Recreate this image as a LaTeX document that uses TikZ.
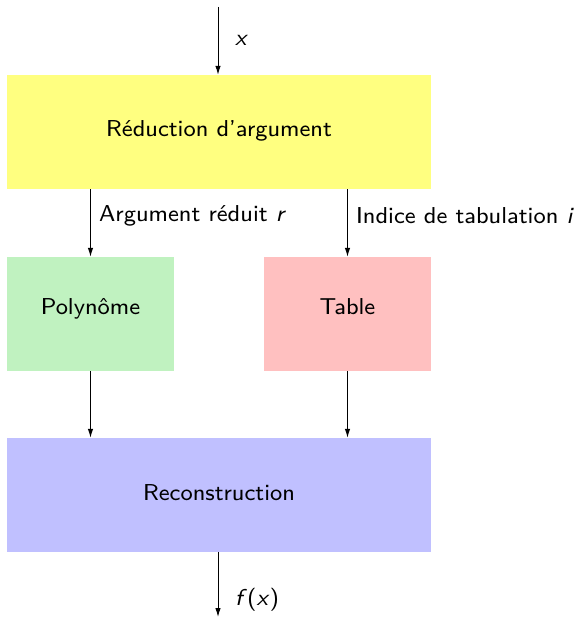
\documentclass[tikz,border=0pt]{standalone}
\usepackage{fontspec}
\setsansfont{lmsans8-regular.otf}[ItalicFont=lmsans8-oblique.otf]
\usetikzlibrary{arrows.meta}
\definecolor{cyellow}{RGB}{255,255,128}
\definecolor{cgreen}{RGB}{192,242,192}
\definecolor{cred}{RGB}{255,192,192}
\definecolor{cblue}{RGB}{192,192,255}
\begin{document}
\begin{tikzpicture}[x=1pt,y=-1pt,
  font=\sffamily\fontsize{23}{28}\selectfont,
  blk/.style={rectangle,inner sep=0pt,minimum height=114pt},
  txt/.style={anchor=base,inner sep=0pt},
  arr/.style={line width=1pt,-{Latex[length=9pt,width=5.5pt]}},
  lbl/.style={anchor=west,inner sep=0pt}]
\useasboundingbox (0,0) rectangle (577,618);
\node[blk,fill=cyellow,minimum width=424pt] (red) at (219,132) {};
\node[blk,fill=cgreen,minimum width=167pt] (poly) at (90.5,314) {};
\node[blk,fill=cred,minimum width=167pt] (tab) at (347.5,314) {};
\node[blk,fill=cblue,minimum width=424pt] (rec) at (219,495) {};
\node[txt] (tred) at (219,136) {Réduction d'argument};
\node[txt] (tpoly) at (90.5,314) {Polynôme};
\node[txt] (ttab) at (347.5,314) {Table};
\node[txt] (trec) at (219,500) {Reconstruction};
\coordinate (in) at (218,7);
\coordinate (out) at (218,617);
\draw[arr] (in) -- (in |- red.north);
\draw[arr] (red.south -| poly.north) -- (poly.north);
\draw[arr] (red.south -| tab.north) -- (tab.north);
\draw[arr] (poly.south) -- (poly.south |- rec.north);
\draw[arr] (tab.south) -- (tab.south |- rec.north);
\draw[arr] (in |- rec.south) -- (out);
\node[lbl] (lx) at (235,40) {\textit{x}};
\node[lbl] (la) at (99,216) {Argument réduit \textit{r}};
\node[lbl] (li) at (356,216) {Indice de tabulation \textit{i}};
\node[lbl] (lf) at (235,600) {\textit{f}(\textit{x})};
\end{tikzpicture}
\end{document}
